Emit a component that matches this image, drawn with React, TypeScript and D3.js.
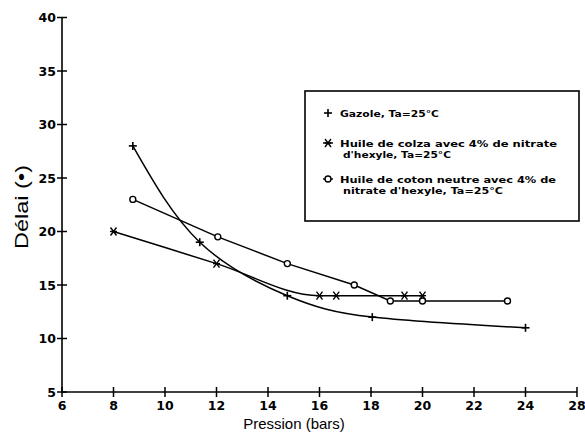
import React from "react";
import * as d3 from "d3";

const xTicks = [6, 8, 10, 12, 14, 16, 18, 20, 22, 24, 26];
const xTickLabels = ["6", "8", "10", "12", "14", "16", "18", "20", "22", "24", "28"];
const yTicks = [5, 10, 15, 20, 25, 30, 35, 40];

const gazoleX = [8.75, 11.35, 14.75, 18.05, 24];
const gazoleY = [28, 19, 14, 12, 11];
const colzaX = [8, 12, 16, 16.65, 19.3, 20];
const colzaY = [20, 17, 14, 14, 14, 14];
const cotonX = [8.75, 12.05, 14.75, 17.35, 18.75, 20, 23.3];
const cotonY = [23, 19.5, 17, 15, 13.5, 13.5, 13.5];

const legendLines = [
  ["Gazole, Ta=25°C"],
  ["Huile de colza avec 4% de nitrate", "d'hexyle, Ta=25°C"],
  ["Huile de coton neutre avec 4% de", "nitrate d'hexyle, Ta=25°C"],
];

const W = 585;
const H = 438;

export default function App() {
  const x = d3.scaleLinear().domain([6, 26]).range([62, 577]);
  const y = d3.scaleLinear().domain([5, 40]).range([392, 17.5]);

  const pts = (xs: number[], ys: number[]) => xs.map((v, i) => [x(v), y(ys[i])] as [number, number]);
  const gPts = pts(gazoleX, gazoleY);
  const cPts = pts(colzaX, colzaY);
  const tPts = pts(cotonX, cotonY);

  const gLine = d3.line().curve(d3.curveNatural)(gPts) || "";
  const cLine = d3.line().curve(d3.curveMonotoneX)(cPts) || "";
  const tLine = d3.line().curve(d3.curveLinear)(tPts) || "";

  const plus = (cx: number, cy: number, k: string) => (
    <g key={k} stroke="#000" strokeWidth={1.6}>
      <line x1={cx - 4} x2={cx + 4} y1={cy} y2={cy} />
      <line x1={cx} x2={cx} y1={cy - 4} y2={cy + 4} />
    </g>
  );
  const star = (cx: number, cy: number, k: string) => (
    <g key={k} stroke="#000" strokeWidth={1.4}>
      <line x1={cx - 3} x2={cx + 3} y1={cy - 4} y2={cy + 4} />
      <line x1={cx + 3} x2={cx - 3} y1={cy - 4} y2={cy + 4} />
      <line x1={cx - 3.5} x2={cx + 3.5} y1={cy} y2={cy} />
    </g>
  );
  const circ = (cx: number, cy: number, k: string) => (
    <g key={k} stroke="#000" strokeWidth={1.4}>
      <circle cx={cx} cy={cy} r={3} fill="#fff" />
    </g>
  );

  const tickFont = "'DejaVu Sans', sans-serif";

  return (
    <svg width={W} height={H} style={{ position: "absolute", left: 0, top: 0, background: "#fff" }}>
      <rect x={0} y={0} width={W} height={H} fill="#fff" />
      {/* axes */}
      <line x1={x(6)} x2={x(6)} y1={y(40)} y2={y(5)} stroke="#000" strokeWidth={1.6} />
      <line x1={x(6)} x2={x(26)} y1={y(5)} y2={y(5)} stroke="#000" strokeWidth={1.6} />
      {yTicks.map((t) => (
        <g key={"y" + t}>
          <line x1={x(6) - 5} x2={x(6) + 5} y1={y(t)} y2={y(t)} stroke="#000" strokeWidth={1.5} />
          <text x={56} y={y(t) + 4.5} textAnchor="end" fontFamily={tickFont} fontWeight="bold" fontSize={12.5}>
            {t}
          </text>
        </g>
      ))}
      {xTicks.map((t, i) => (
        <g key={"x" + t}>
          <line x1={x(t)} x2={x(t)} y1={y(5) - 5} y2={y(5) + 5} stroke="#000" strokeWidth={1.5} />
          <text x={x(t)} y={410} textAnchor="middle" fontFamily={tickFont} fontWeight="bold" fontSize={12.5}>
            {xTickLabels[i]}
          </text>
        </g>
      ))}
      <text x={294} y={429} textAnchor="middle" fontFamily="'Liberation Sans', Arial, sans-serif" fontSize={15}>
        Pression (bars)
      </text>
      <text
        transform={`translate(28,207) rotate(-90)`}
        textAnchor="middle"
        fontFamily="'Liberation Sans', Arial, sans-serif"
        fontSize={18}
        textLength={84}
        lengthAdjust="spacingAndGlyphs"
      >
        Délai (•)
      </text>

      {/* series */}
      <path d={gLine} fill="none" stroke="#000" strokeWidth={1.5} />
      <path d={cLine} fill="none" stroke="#000" strokeWidth={1.5} />
      <path d={tLine} fill="none" stroke="#000" strokeWidth={1.5} />
      {gPts.map((p, i) => plus(p[0], p[1], "g" + i))}
      {cPts.map((p, i) => star(p[0], p[1], "c" + i))}
      {tPts.map((p, i) => circ(p[0], p[1], "t" + i))}

      {/* legend */}
      <rect x={305} y={91} width={274} height={130} fill="#fff" stroke="#000" strokeWidth={1.6} />
      {plus(328, 113, "lg")}
      <line x1={323} x2={333} y1={143} y2={143} stroke="#000" strokeWidth={1.4} />
      {star(328, 143, "lc")}
      <line x1={323} x2={333} y1={179} y2={179} stroke="#000" strokeWidth={1.4} />
      {circ(328, 179, "lt")}
      <g fontFamily={tickFont} fontWeight="bold" fontSize={9.5}>
        <text x={340} y={117} textLength={99} lengthAdjust="spacingAndGlyphs">{legendLines[0][0]}</text>
        <text x={340} y={147} textLength={217} lengthAdjust="spacingAndGlyphs">{legendLines[1][0]}</text>
        <text x={343} y={158} textLength={108} lengthAdjust="spacingAndGlyphs">{legendLines[1][1]}</text>
        <text x={340} y={183} textLength={216} lengthAdjust="spacingAndGlyphs">{legendLines[2][0]}</text>
        <text x={343} y={194} textLength={160} lengthAdjust="spacingAndGlyphs">{legendLines[2][1]}</text>
      </g>
    </svg>
  );
}
